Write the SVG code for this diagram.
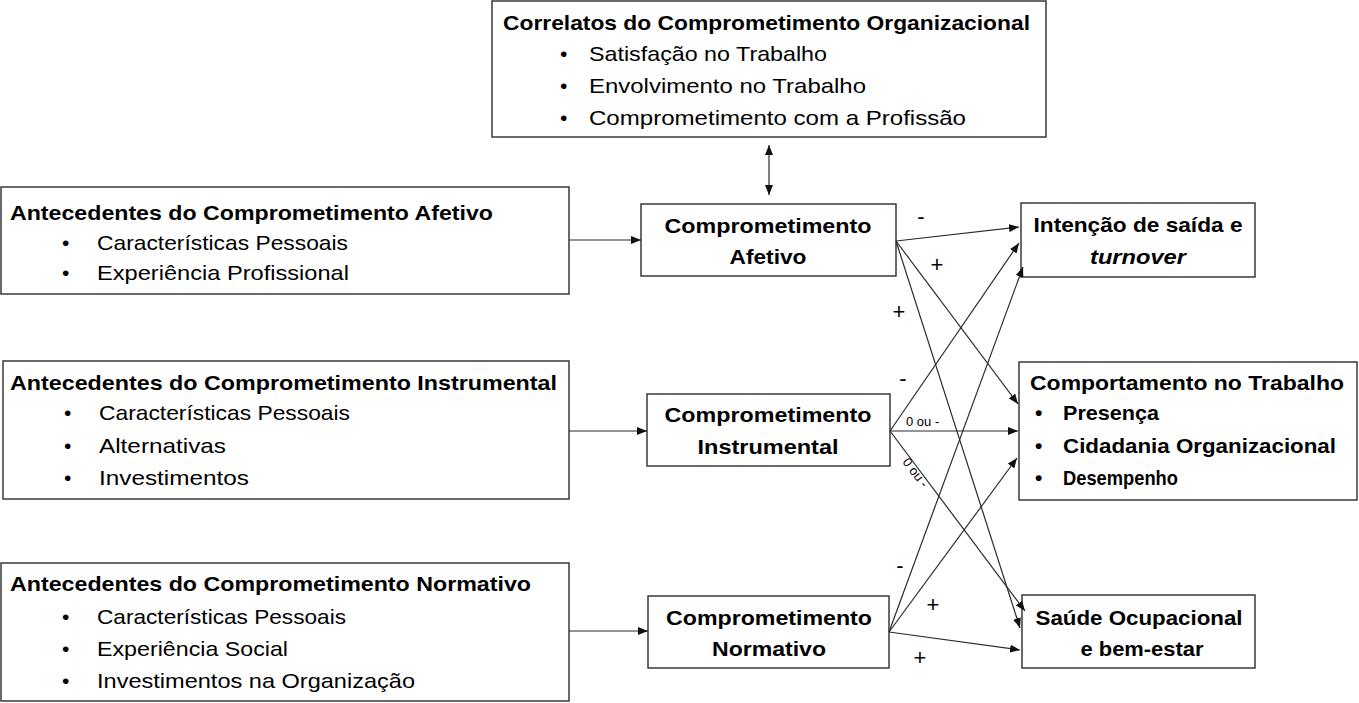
<svg xmlns="http://www.w3.org/2000/svg" width="1359" height="703" viewBox="0 0 1359 703">
<defs>
<marker id="ah" viewBox="0 0 10 8" refX="10" refY="4" markerWidth="10" markerHeight="8" markerUnits="userSpaceOnUse" orient="auto-start-reverse">
<path d="M0,0 L10,4 L0,8 Z" fill="#111"/>
</marker>
<style>
.box{fill:#fff;stroke:#2b2b2b;stroke-width:1.4}
.t{font-family:"Liberation Sans",Arial,sans-serif;font-size:21px;fill:#000}
.b{font-weight:bold}
.c{text-anchor:middle}
.lab{font-family:"Liberation Sans",Arial,sans-serif;font-size:22px;fill:#000;text-anchor:middle}
.sm{font-family:"Liberation Sans",Arial,sans-serif;font-size:13px;fill:#000}
.ln{stroke:#2b2b2b;stroke-width:1.2;fill:none;marker-end:url(#ah)}
</style>
</defs>
<rect width="1359" height="703" fill="#fff"/>

<g id="correlatos">
<rect class="box" x="492" y="1" width="554" height="136"/>
<text class="t b" x="503" y="30" textLength="527" lengthAdjust="spacingAndGlyphs">Correlatos do Comprometimento Organizacional</text>
<text class="t" x="560" y="61">•</text><text class="t" x="589" y="61" textLength="238" lengthAdjust="spacingAndGlyphs">Satisfação no Trabalho</text>
<text class="t" x="560" y="93">•</text><text class="t" x="589" y="93" textLength="277" lengthAdjust="spacingAndGlyphs">Envolvimento no Trabalho</text>
<text class="t" x="560" y="125">•</text><text class="t" x="589" y="125" textLength="377" lengthAdjust="spacingAndGlyphs">Comprometimento com a Profissão</text>
</g>

<g id="ant-afetivo">
<rect class="box" x="1" y="187" width="568" height="107"/>
<text class="t b" x="10" y="220" textLength="483" lengthAdjust="spacingAndGlyphs">Antecedentes do Comprometimento Afetivo</text>
<text class="t" x="62" y="250">•</text><text class="t" x="97" y="250" textLength="251" lengthAdjust="spacingAndGlyphs">Características Pessoais</text>
<text class="t" x="62" y="280">•</text><text class="t" x="97" y="280" textLength="252" lengthAdjust="spacingAndGlyphs">Experiência Profissional</text>
</g>

<g id="comp-afetivo">
<rect class="box" x="641" y="204" width="255" height="72"/>
<text class="t b c" x="768" y="233" textLength="207" lengthAdjust="spacingAndGlyphs">Comprometimento</text>
<text class="t b c" x="768" y="264" textLength="77" lengthAdjust="spacingAndGlyphs">Afetivo</text>
</g>

<g id="intencao">
<rect class="box" x="1021" y="203" width="234" height="74"/>
<text class="t b c" x="1138" y="232" textLength="209" lengthAdjust="spacingAndGlyphs">Intenção de saída e</text>
<text class="t b c" x="1138" y="264" font-style="italic" textLength="96" lengthAdjust="spacingAndGlyphs">turnover</text>
</g>

<g id="ant-instrumental">
<rect class="box" x="3" y="361" width="566" height="138"/>
<text class="t b" x="10" y="390" textLength="547" lengthAdjust="spacingAndGlyphs">Antecedentes do Comprometimento Instrumental</text>
<text class="t" x="64" y="420">•</text><text class="t" x="99" y="420" textLength="251" lengthAdjust="spacingAndGlyphs">Características Pessoais</text>
<text class="t" x="64" y="453">•</text><text class="t" x="99" y="453" textLength="127" lengthAdjust="spacingAndGlyphs">Alternativas</text>
<text class="t" x="64" y="485">•</text><text class="t" x="99" y="485" textLength="150" lengthAdjust="spacingAndGlyphs">Investimentos</text>
</g>

<g id="comp-instrumental">
<rect class="box" x="647" y="394" width="243" height="72"/>
<text class="t b c" x="768" y="422" textLength="207" lengthAdjust="spacingAndGlyphs">Comprometimento</text>
<text class="t b c" x="768" y="454" textLength="141" lengthAdjust="spacingAndGlyphs">Instrumental</text>
</g>

<g id="comportamento">
<rect class="box" x="1019" y="362" width="338" height="138"/>
<text class="t b" x="1030" y="390" textLength="314" lengthAdjust="spacingAndGlyphs">Comportamento no Trabalho</text>
<text class="t b" x="1035" y="420">•</text><text class="t b" x="1063" y="420" textLength="96" lengthAdjust="spacingAndGlyphs">Presença</text>
<text class="t b" x="1035" y="453">•</text><text class="t b" x="1063" y="453" textLength="273" lengthAdjust="spacingAndGlyphs">Cidadania Organizacional</text>
<text class="t b" x="1035" y="485">•</text><text class="t b" x="1063" y="485" textLength="115" lengthAdjust="spacingAndGlyphs">Desempenho</text>
</g>

<g id="ant-normativo">
<rect class="box" x="1" y="563" width="568" height="138"/>
<text class="t b" x="10" y="591" textLength="521" lengthAdjust="spacingAndGlyphs">Antecedentes do Comprometimento Normativo</text>
<text class="t" x="62" y="624">•</text><text class="t" x="97" y="624" textLength="249" lengthAdjust="spacingAndGlyphs">Características Pessoais</text>
<text class="t" x="62" y="656">•</text><text class="t" x="97" y="656" textLength="191" lengthAdjust="spacingAndGlyphs">Experiência Social</text>
<text class="t" x="62" y="688">•</text><text class="t" x="97" y="688" textLength="318" lengthAdjust="spacingAndGlyphs">Investimentos na Organização</text>
</g>

<g id="comp-normativo">
<rect class="box" x="648" y="596" width="241" height="72"/>
<text class="t b c" x="769" y="625" textLength="206" lengthAdjust="spacingAndGlyphs">Comprometimento</text>
<text class="t b c" x="769" y="656" textLength="114" lengthAdjust="spacingAndGlyphs">Normativo</text>
</g>

<g id="saude">
<rect class="box" x="1022" y="595" width="233" height="73"/>
<text class="t b c" x="1139" y="625" textLength="207" lengthAdjust="spacingAndGlyphs">Saúde Ocupacional</text>
<text class="t b c" x="1142" y="656" textLength="123" lengthAdjust="spacingAndGlyphs">e bem-estar</text>
</g>

<g id="connectors">
<line class="ln" x1="769" y1="145" x2="769" y2="195" marker-start="url(#ah)"/>
<line class="ln" x1="569" y1="240" x2="641" y2="240"/>
<line class="ln" x1="569" y1="431" x2="647" y2="431"/>
<line class="ln" x1="569" y1="631" x2="648" y2="631"/>

<line class="ln" x1="896" y1="241" x2="1019" y2="227"/>
<line class="ln" x1="896" y1="241" x2="1018" y2="404"/>
<line class="ln" x1="896" y1="241" x2="1020" y2="628"/>

<line class="ln" x1="890" y1="431" x2="1019" y2="243"/>
<line class="ln" x1="890" y1="431" x2="1018" y2="431"/>
<line class="ln" x1="890" y1="431" x2="1025" y2="611"/>

<line class="ln" x1="889" y1="632" x2="1023" y2="267"/>
<line class="ln" x1="889" y1="632" x2="1017" y2="458"/>
<line class="ln" x1="889" y1="632" x2="1020" y2="650"/>

<text class="lab" x="921" y="224">-</text>
<text class="lab" x="937" y="272">+</text>
<text class="lab" x="899" y="319">+</text>
<text class="lab" x="903" y="386">-</text>
<text class="sm" x="906" y="426">0 ou -</text>
<text class="sm" transform="translate(902,462) rotate(53)">0 ou -</text>
<text class="lab" x="900" y="573">-</text>
<text class="lab" x="933" y="612">+</text>
<text class="lab" x="920" y="665">+</text>
</g>
</svg>
